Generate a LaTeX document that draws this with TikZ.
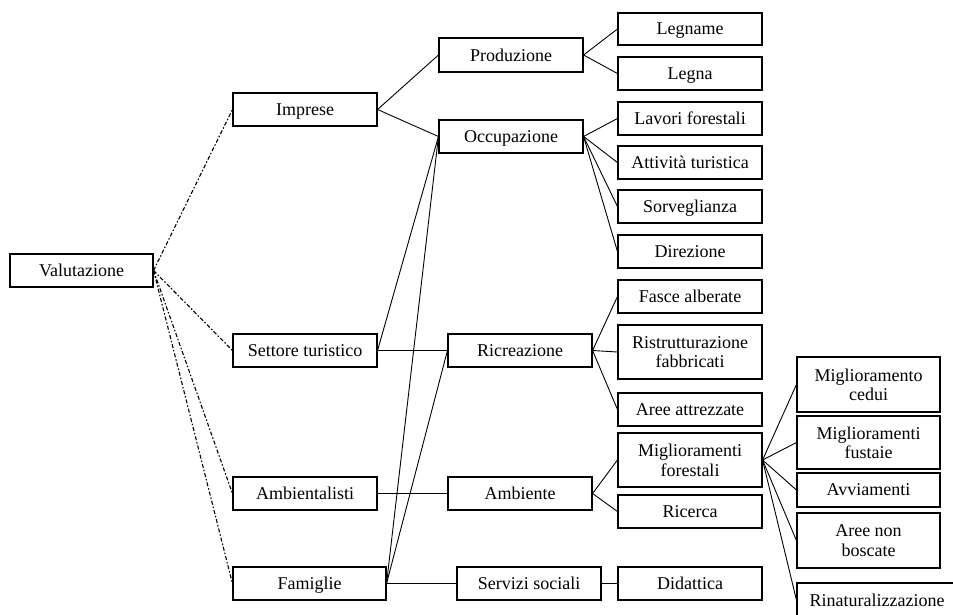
\documentclass[tikz,border=0pt]{standalone}
\usepackage{fontspec}
\setmainfont{Liberation Serif}
\begin{document}
\begin{tikzpicture}[x=1pt,y=-1pt,
  box/.style={draw=black, line width=1.1pt, fill=white, inner sep=0pt, align=center,
    minimum width=144pt, minimum height=33pt, text depth=0pt,
    font=\fontsize{18}{19.5}\selectfont},
  conn/.style={draw=black, line width=0.9pt},
  dd/.style={draw=black, line width=1.1pt, dash pattern=on 4pt off 2pt on 1.5pt off 2pt}]
\clip (0,0) rectangle (953,614);
\fill[white] (0,0) rectangle (953,614);

% column 1
\node[box, minimum width=143pt] (val) at (81.5,270.5) {Valutazione};
% column 2
\node[box] (imp) at (305,109.5) {Imprese};
\node[box] (set) at (305,350.5) {Settore turistico};
\node[box] (amb) at (305,493.5) {Ambientalisti};
\node[box, minimum width=153pt] (fam) at (309.5,583.5) {Famiglie};
% column 3
\node[box, minimum height=34pt] (prod) at (511,55) {Produzione};
\node[box] (occ) at (511,136.5) {Occupazione};
\node[box] (ric) at (520,350.5) {Ricreazione};
\node[box] (ambte) at (520,493.5) {Ambiente};
\node[box] (serv) at (529,583.5) {Servizi sociali};
% column 4
\node[box, minimum height=32pt] (legname) at (690,29) {Legname};
\node[box] (legna) at (690,73.5) {Legna};
\node[box] (lav) at (690,118.5) {Lavori forestali};
\node[box] (att) at (690,162.5) {Attività turistica};
\node[box] (sorv) at (690,206.5) {Sorveglianza};
\node[box] (dir) at (690,251.5) {Direzione};
\node[box] (fasce) at (690,296.5) {Fasce alberate};
\node[box, minimum height=54pt] (ristr) at (690,352) {Ristrutturazione\\fabbricati};
\node[box] (aree) at (690,409.5) {Aree attrezzate};
\node[box, minimum height=54pt] (migf) at (690,460) {Miglioramenti\\forestali};
\node[box] (ricerca) at (690,511.5) {Ricerca};
\node[box] (did) at (690,583.5) {Didattica};
% column 5
\node[box, minimum width=143pt, minimum height=55pt] (mced) at (868.5,384.5) {Miglioramento\\cedui};
\node[box, minimum width=143pt, minimum height=53pt] (mfust) at (868.5,442.5) {Miglioramenti\\fustaie};
\node[box, minimum width=143pt, minimum height=34pt] (avv) at (868.5,490) {Avviamenti};
\node[box, minimum width=143pt, minimum height=55pt] (anb) at (868.5,540.5) {Aree non\\boscate};
\node[box, minimum width=160pt, minimum height=34pt] (rin) at (877,600) {Rinaturalizzazione};

% dash-dot connectors from Valutazione
\draw[dd] (val.east) -- (imp.west);
\draw[dd] (val.east) -- (set.west);
\draw[dd] (val.east) -- (amb.west);
\draw[dd] (val.east) -- (fam.west);

% solid connectors
\draw[conn] (imp.east) -- (prod.west);
\draw[conn] (imp.east) -- (occ.west);
\draw[conn] (set.east) -- (occ.west);
\draw[conn] (set.east) -- (ric.west);
\draw[conn] (amb.east) -- (ambte.west);
\draw[conn] (fam.east) -- (occ.west);
\draw[conn] (fam.east) -- (ric.west);
\draw[conn] (fam.east) -- (serv.west);

\draw[conn] (prod.east) -- (legname.west);
\draw[conn] (prod.east) -- (legna.west);
\draw[conn] (occ.east) -- (lav.west);
\draw[conn] (occ.east) -- (att.west);
\draw[conn] (occ.east) -- (sorv.west);
\draw[conn] (occ.east) -- (dir.west);
\draw[conn] (ric.east) -- (fasce.west);
\draw[conn] (ric.east) -- (ristr.west);
\draw[conn] (ric.east) -- (aree.west);
\draw[conn] (ambte.east) -- (migf.west);
\draw[conn] (ambte.east) -- (ricerca.west);
\draw[conn] (serv.east) -- (did.west);

\draw[conn] (migf.east) -- (mced.west);
\draw[conn] (migf.east) -- (mfust.west);
\draw[conn] (migf.east) -- (avv.west);
\draw[conn] (migf.east) -- (anb.west);
\draw[conn] (migf.east) -- (rin.west);
\end{tikzpicture}
\end{document}
